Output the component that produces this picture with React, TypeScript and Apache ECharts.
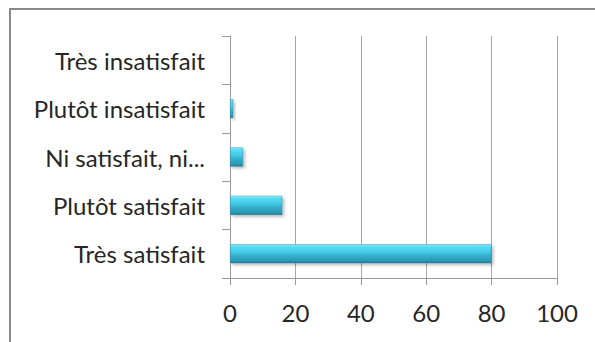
import React, { useEffect, useRef } from "react";
import * as echarts from "echarts";

const categories = [
  "Très satisfait",
  "Plutôt satisfait",
  "Ni satisfait, ni insatisfait",
  "Plutôt insatisfait",
  "Très insatisfait",
];
const categoryLabels = [
  "Très satisfait",
  "Plutôt satisfait",
  "Ni satisfait, ni...",
  "Plutôt insatisfait",
  "Très insatisfait",
];
const values = [80, 16, 4, 1, 0];
const xTicks = { min: 0, max: 100, interval: 20 };

export default function App() {
  const ref = useRef<HTMLDivElement>(null);

  useEffect(() => {
    if (!ref.current) return;
    const chart = echarts.init(ref.current, undefined, { renderer: "svg" });
    const font = "Lato, 'Open Sans', sans-serif";
    chart.setOption({
      animation: false,
      backgroundColor: "#ffffff",
      graphic: [
        {
          type: "rect",
          shape: { x: 10, y: 9, width: 600, height: 350 },
          style: { fill: "none", stroke: "#8a8a8a", lineWidth: 2 },
          z: 0,
        },
      ],
      grid: { left: 230, top: 36, width: 327, height: 242, containLabel: false },
      xAxis: {
        type: "value",
        min: xTicks.min,
        max: xTicks.max,
        interval: xTicks.interval,
        axisLine: { show: true, lineStyle: { color: "#9a9a9a", width: 1 } },
        axisTick: { show: true, length: 7, lineStyle: { color: "#9a9a9a" } },
        splitLine: { show: true, lineStyle: { color: "#a6a6a6", width: 1 } },
        axisLabel: {
          color: "#262626",
          fontSize: 24,
          fontWeight: "normal",
          fontFamily: font,
          margin: 22,
        },
      },
      yAxis: {
        type: "category",
        data: categories,
        axisLine: { show: true, lineStyle: { color: "#9a9a9a", width: 1 } },
        axisTick: { show: true, length: 8, lineStyle: { color: "#9a9a9a" } },
        axisLabel: {
          color: "#262626",
          fontSize: 24,
          fontWeight: "normal",
          fontFamily: font,
          margin: 25,
          formatter: (_v: string, i: number) => categoryLabels[i],
        },
      },
      series: [
        {
          type: "bar",
          data: values,
          barWidth: 19,
          itemStyle: {
            color: new echarts.graphic.LinearGradient(0, 0, 0, 1, [
              { offset: 0, color: "#9af2ff" },
              { offset: 0.12, color: "#55dcf5" },
              { offset: 0.45, color: "#3fc6e2" },
              { offset: 0.6, color: "#34afcb" },
              { offset: 0.9, color: "#2a98b3" },
              { offset: 1, color: "#1d7088" },
            ]),
            borderColor: "#2a8aa0",
            borderWidth: 0.5,
            shadowColor: "rgba(0,0,0,0.25)",
            shadowBlur: 3,
            shadowOffsetX: 2,
            shadowOffsetY: 2,
          },
        },
      ],
    });
    return () => chart.dispose();
  }, []);

  return (
    <div
      ref={ref}
      style={{ position: "fixed", left: 0, top: 0, width: 595, height: 342 }}
    />
  );
}
